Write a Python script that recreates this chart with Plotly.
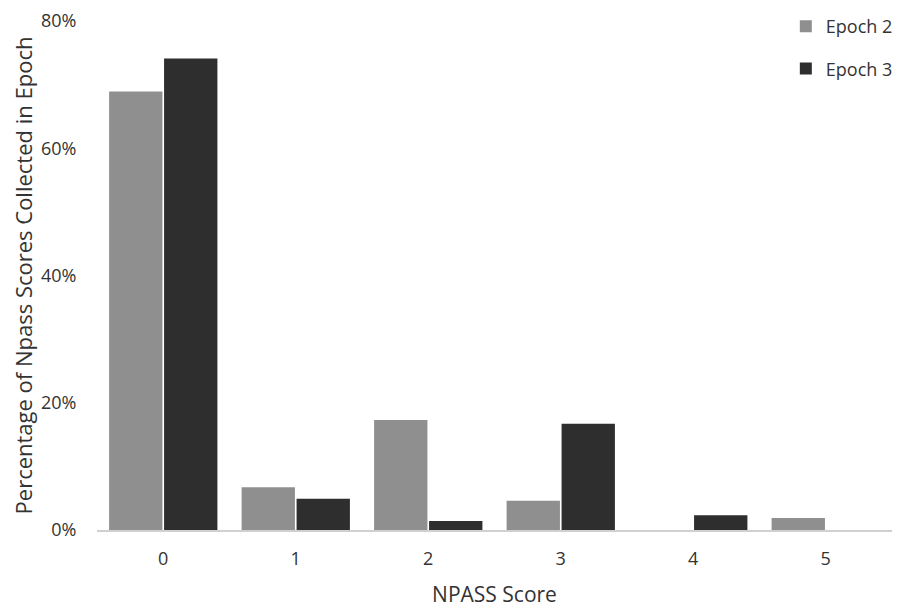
import plotly.graph_objects as go

scores = ["0", "1", "2", "3", "4", "5"]
epoch2 = [68.9, 6.7, 17.3, 4.6, 0.0, 1.9]
epoch3 = [74.1, 4.9, 1.4, 16.7, 2.3, 0.0]
y_ticks = [0, 20, 40, 60, 80]
y_tick_labels = ["0%", "20%", "40%", "60%", "80%"]

font_family = "Open Sans, Noto Sans, Liberation Sans, sans-serif"

fig = go.Figure()
fig.add_trace(go.Bar(
    x=scores, y=epoch2, name="Epoch 2", legendgroup="e2",
    marker=dict(color="#8f8f8f", line=dict(width=0)),
))
fig.add_trace(go.Bar(
    x=scores, y=epoch3, name="Epoch 3", legendgroup="e3",
    marker=dict(color="#2e2e2e", line=dict(width=0)),
))

fig.update_layout(
    width=892, height=603,
    margin=dict(l=89, r=8, t=13, b=81, autoexpand=False),
    paper_bgcolor="white", plot_bgcolor="white",
    barmode="group", bargap=0.17, bargroupgap=0.03,
    font=dict(family=font_family, color="#333333", size=18),
    showlegend=True,
    legend=dict(
        xref="container", yref="container",
        x=0.872, y=1.0, xanchor="left", yanchor="top",
        font=dict(size=18, color="#333333"),
        tracegroupgap=16, bgcolor="rgba(0,0,0,0)",
    ),
    xaxis=dict(
        title=dict(text="NPASS Score", font=dict(size=21), standoff=18),
        showline=True, linecolor="#d0d0d0", linewidth=1.5,
        ticks="outside", ticklen=12, tickcolor="rgba(0,0,0,0)",
        showgrid=False, tickfont=dict(size=18), automargin=False,
    ),
    yaxis=dict(
        title=dict(text="Percentage of Npass Scores Collected in Epoch", font=dict(size=22), standoff=9),
        range=[0, 80], tickvals=y_ticks, ticktext=y_tick_labels,
        showgrid=False, zeroline=False, showline=False,
        ticks="outside", ticklen=16, tickcolor="rgba(0,0,0,0)",
        tickfont=dict(size=18), automargin=False,
        ticklabeloverflow="allow",
    ),
)

fig.write_html("out.html")
